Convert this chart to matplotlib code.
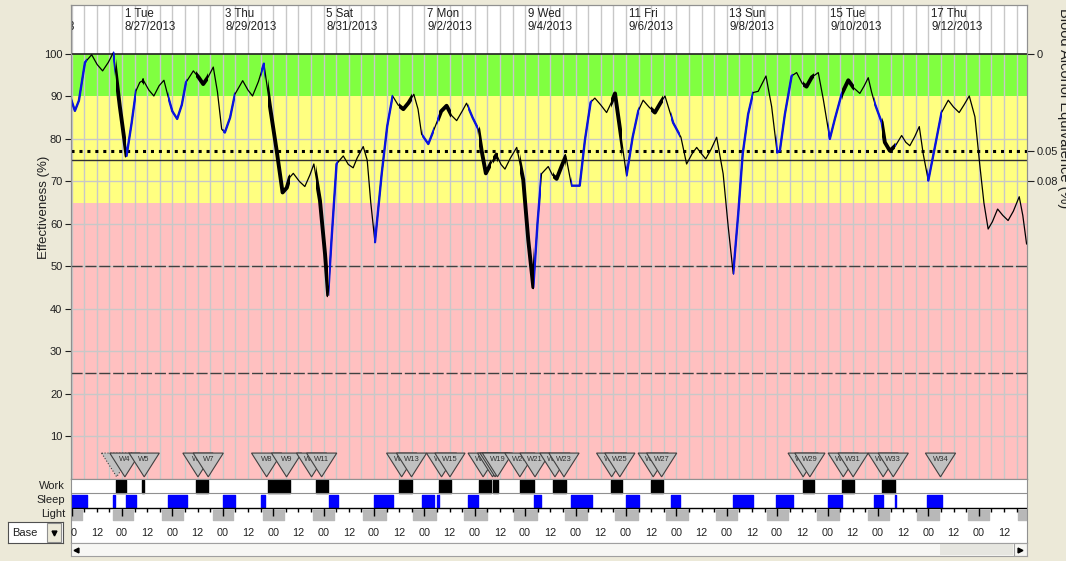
import matplotlib.pyplot as plt
from matplotlib.patches import Polygon, Rectangle
from matplotlib.path import Path

plt.rcParams['font.family'] = ['Liberation Sans', 'DejaVu Sans']

# hours from midnight of day 1 (Tue 8/27/2013), effectiveness (%)
curve_hours = [-24.4, -22.4, -20.5, -17.6, -14.4, -11.8, -9.2, -6.5, -4.1, -1.0, 2.2, 4.6, 6.7, 8.5,
               10.2, 12.8, 15.2, 17.7, 20.0, 21.9, 24.0, 26.3, 28.5, 30.5, 34.0, 36.5, 38.7, 41.0,
               43.5, 45.5, 47.5, 49.0, 51.5, 53.8, 57.5, 60.0, 62.2, 65.0, 67.6, 70.5, 73.7, 76.5,
               78.5, 80.0, 81.6, 84.5, 87.1, 89.5, 91.4, 94.3, 96.7, 98.2, 99.8, 102.2, 105.4, 107.8,
               110.1, 112.0, 114.9, 116.8, 118.5, 120.5, 123.7, 126.3, 128.9, 131.5, 134.0, 136.5,
               139.0, 141.0, 142.7, 145.9, 149.0, 152.0, 154.6, 157.0, 159.4, 162.0, 164.1, 167.0,
               169.7, 171.3, 173.3, 176.0, 178.4, 180.5, 182.4, 185.0, 188.0, 191.1, 193.5, 195.9,
               197.9, 199.8, 203.0, 205.0, 207.0, 209.3, 211.4, 214.1, 218.0, 220.5, 223.2, 225.2,
               228.0, 230.8, 233.0, 234.8, 237.9, 240.3, 243.2, 245.9, 248.2, 251.0, 253.8, 256.5,
               258.6, 260.5, 262.5, 266.2, 268.9, 271.5, 273.7, 275.5, 278.0, 280.5, 283.2, 286.3,
               288.7, 291.1, 293.5, 295.6, 298.2, 300.6, 303.0, 306.7, 309.4, 312.0, 313.3, 315.7,
               318.9, 321.3, 324.0, 326.0, 328.5, 331.6, 334.0, 337.1, 339.5, 342.7, 345.9, 348.5,
               351.4, 353.5, 355.4, 357.0, 358.6, 361.8, 363.3, 365.7, 368.5, 371.3, 373.3, 375.2,
               377.5, 379.7, 381.6, 384.0, 387.1, 390.3, 393.5, 396.0, 398.7, 401.0, 403.5, 406.2,
               408.6, 410.5, 412.5, 414.5, 417.0, 419.5, 422.0, 424.5, 427.3, 429.0, 430.8]
curve_effect = [89.6, 86.6, 89.0, 98.0, 99.8, 97.5, 96.0, 98.0, 100.3, 87.6, 76.0, 83.7, 91.3, 93.3,
                93.8, 91.5, 90.1, 92.5, 93.8, 90.1, 86.5, 84.7, 88.0, 93.3, 96.0, 94.5, 92.9, 94.5,
                96.9, 91.0, 82.3, 81.5, 85.0, 90.5, 93.7, 91.5, 90.1, 93.5, 97.7, 87.6, 77.2, 67.4,
                68.5, 71.0, 71.9, 70.0, 68.8, 71.5, 74.1, 65.5, 53.0, 43.2, 56.2, 74.1, 76.0, 74.0,
                73.2, 75.5, 78.2, 75.0, 65.0, 55.7, 71.8, 82.9, 90.1, 88.0, 87.0, 88.5,
                90.5, 87.0, 81.1, 78.8, 82.7, 86.5, 87.8, 85.5, 84.3, 86.5, 88.4, 85.0,
                82.3, 77.2, 71.9, 74.5, 76.3, 74.0, 72.9, 75.5, 78.0, 70.4, 56.2, 45.1,
                60.2, 71.8, 73.5, 71.5, 70.6, 73.5, 76.0, 69.0, 69.0, 79.8, 88.6, 89.6,
                88.0, 86.2, 88.5, 90.7, 79.8, 71.4, 80.4, 86.6, 89.1, 87.5, 86.2, 88.5,
                90.1, 87.0, 83.8, 80.4, 74.1, 76.5, 78.0, 76.8, 75.3, 77.5, 80.4, 71.8,
                59.4, 48.3, 62.5, 76.4, 85.8, 90.9, 91.2, 94.8, 87.6, 76.8, 77.2, 85.8,
                94.8, 95.6, 93.0, 92.3, 94.5, 95.6, 89.3, 80.0, 84.7, 90.5, 93.8, 92.0,
                90.7, 92.5, 94.4, 91.0, 88.2, 83.9, 79.2, 77.2, 78.5, 80.8, 79.2, 78.4,
                80.5, 82.9, 76.4, 70.2, 78.0, 86.2, 89.1, 87.5, 86.2, 88.0, 90.1, 85.2,
                73.5, 64.9, 58.8, 60.5, 63.5, 62.0, 60.8, 63.0, 66.4, 62.0, 55.3]

sleep_periods = [(-24.4, -16.5), (-4.1, -3.3), (1.8, 6.7), (22.0, 30.8), (48.0, 53.8), (66.0, 68.0),
                 (98.7, 103.0), (120.1, 128.9), (142.9, 148.7), (150.1, 151.1), (165.0, 169.7),
                 (196.0, 199.7), (213.7, 223.7), (240.0, 246.3), (261.3, 265.7), (290.8, 300.6),
                 (311.4, 319.7), (336.0, 342.7), (358.1, 362.2), (368.1, 368.6), (383.2, 390.3)]
work_periods = [(-3.0, 1.9), (9.7, 10.6), (35.2, 41.1), (69.4, 80.0), (92.4, 98.2), (132.0, 138.1),
                (151.1, 156.7), (170.2, 175.7), (176.8, 179.2), (189.5, 196.3), (205.4, 211.4),
                (232.7, 237.9), (251.9, 257.8), (324.1, 329.7), (343.0, 348.7), (362.0, 368.1)]
dark_periods = [(-24.4, -19.2), (-4.4, 5.4), (19.2, 29.2), (43.5, 53.0), (67.3, 77.1), (91.1, 101.1),
                (115.0, 125.7), (138.7, 149.5), (162.9, 173.7), (186.8, 197.5), (210.9, 221.6),
                (235.0, 245.9), (259.0, 269.7), (282.9, 293.0), (307.0, 317.3), (331.1, 341.6),
                (355.1, 365.4), (378.7, 389.2), (402.7, 413.0), (426.8, 431.0)]

# work markers (apex hour, label); labels that are fully covered in the original are left blank
marker_hours = [-2.5, 1.4, 10.6, 36.2, 41.1, 68.9, 78.4, 90.3, 95.1, 133.2, 137.9, 152.2, 156.2,
                172.0, 176.5, 177.7, 178.8, 189.5, 196.7, 206.2, 210.5, 233.2, 237.1, 253.0, 257.0,
                324.4, 327.6, 343.5, 348.2, 362.5, 367.3, 389.8]
marker_labels = ['', 'W4', 'W5', 'W6', 'W7', 'W8', 'W9', 'W10', 'W11', 'W12', 'W13', 'W14', 'W15',
                 'W16', '', '', 'W19', 'W20', 'W21', 'W22', 'W23', 'W24', 'W25', 'W26', 'W27',
                 'W28', 'W29', 'W30', 'W31', 'W32', 'W33', 'W34']

day_hours = [-48, 0, 48, 96, 144, 192, 240, 288, 336, 384]
day_labels = ['30 Sun', '1 Tue', '3 Thu', '5 Sat', '7 Mon', '9 Wed', '11 Fri', '13 Sun', '15 Tue', '17 Thu']
date_labels = ['8/25/2013', '8/27/2013', '8/29/2013', '8/31/2013', '9/2/2013', '9/4/2013',
               '9/6/2013', '9/8/2013', '9/10/2013', '9/12/2013']

bac_ticks = [100, 77.2, 70]
bac_labels = ['0', '0.05', '0.08']

W, H = 1066, 561
fig = plt.figure(figsize=(W / 100, H / 100), dpi=100, facecolor='#ECE9D8')


def px_axes(x0, y0, x1, y1):
    return fig.add_axes([x0 / W, 1 - y1 / H, (x1 - x0) / W, (y1 - y0) / H])


X0, X1 = 70.7, 1027
XLIM = (-24.4, 431)

# main effectiveness panel
ax = px_axes(X0, 5, X1, 479)
ax.set_xlim(*XLIM)
ax.set_ylim(0, 111.5)
ax.set_facecolor('white')
ax.axhspan(90, 100, color='#80FF40', lw=0, zorder=0)
ax.axhspan(65, 90, color='#FFFF80', lw=0, zorder=0)
ax.axhspan(0, 65, color='#FFC0C0', lw=0, zorder=0)
for h in range(-24, 431, 6):
    ax.axvline(h, color='#C8C8C8', lw=1, zorder=1)
for v in range(10, 90, 10):
    ax.axhline(v, color='#C8C8C8', lw=1, zorder=1)
ax.axhline(100, color='#202020', lw=1.2, zorder=2)
ax.axhline(77.2, color='black', lw=2.2, ls=(0, (1, 1.6)), zorder=2)
ax.axhline(75, color='#303030', lw=1, zorder=2)
ax.axhline(50, color='#404040', lw=1, ls=(0, (8, 2)), zorder=2)
ax.axhline(25, color='#404040', lw=1, ls=(0, (8, 2)), zorder=2)


def period_path(periods):
    rects = [Path([(s, -10), (e, -10), (e, 130), (s, 130), (s, -10)],
                  [Path.MOVETO, Path.LINETO, Path.LINETO, Path.LINETO, Path.CLOSEPOLY])
             for s, e in periods]
    return Path.make_compound_path(*rects)


# thin line everywhere, blue while asleep, thick while at work
ax.plot(curve_hours, curve_effect, color='black', lw=0.9, zorder=5)
blue, = ax.plot(curve_hours, curve_effect, color='#0A14E0', lw=1.7, zorder=6)
blue.set_clip_path(period_path(sleep_periods), ax.transData)
thick, = ax.plot(curve_hours, curve_effect, color='black', lw=2.8, zorder=6,
                 solid_capstyle='round', solid_joinstyle='round')
thick.set_clip_path(period_path(work_periods), ax.transData)

for i, (h, lab) in enumerate(zip(marker_hours, marker_labels)):
    tri = Polygon([(h - 7.2, 6.1), (h + 7.2, 6.1), (h, 0.5)], closed=True, fc='#C0C0C0',
                  ec='#404040', lw=0.8, ls=':' if i == 0 else '-', zorder=10 + 2 * i)
    ax.add_patch(tri)
    if lab:
        ax.text(h, 4.7, lab, ha='center', va='center', fontsize=5.5, color='#303030',
                zorder=11 + 2 * i)

# day labels in the header
for h, d, dt in zip(day_hours, day_labels, date_labels):
    ax.text(h + 1.3, 110.8, d + '\n' + dt, ha='left', va='top', fontsize=8.3,
            color='#202020', linespacing=1.15, clip_on=True, zorder=3)

ax.set_xticks([])
ax.set_yticks(range(10, 101, 10))
ax.tick_params(axis='y', direction='out', length=4, labelsize=8, pad=2, colors='#202020')
for s in ax.spines.values():
    s.set_color('#909090')

ax2 = ax.twinx()
ax2.set_ylim(0, 111.5)
ax2.set_yticks(bac_ticks)
ax2.set_yticklabels(bac_labels)
ax2.tick_params(axis='y', direction='out', length=5, labelsize=8, pad=2, colors='#202020')
for s in ax2.spines.values():
    s.set_color('#909090')

fig.text(44 / W, 1 - 207 / H, 'Effectiveness (%)', rotation=90, ha='center', va='center',
         fontsize=9.5, color='#202020')
fig.text(1064 / W, 1 - 108 / H, 'Blood Alcohol Equivalence (%)', rotation=-90, ha='center',
         va='center', fontsize=10.5, color='#202020')

# work / sleep / light rows and hour labels (y in pixels)
rows = px_axes(X0, 479, X1, 543)
rows.set_xlim(*XLIM)
rows.set_ylim(543, 479)
rows.set_facecolor('white')
rows.set_xticks([])
rows.set_yticks([])
for s in rows.spines.values():
    s.set_color('#909090')
rows.broken_barh([(s, e - s) for s, e in work_periods], (479.5, 13.5), color='black')
rows.broken_barh([(s, e - s) for s, e in sleep_periods], (494.5, 12.2), color='#0000FF')
rows.broken_barh([(s, e - s) for s, e in dark_periods], (509.5, 10.5), color='#B8B8B8')
rows.axhline(493.3, color='#909090', lw=0.8)
rows.axhline(508.3, color='black', lw=1)
for h in range(-24, 431, 6):
    rows.vlines(h, 508.3, 516 if h % 24 == 0 else 511.5, color='black', lw=1)
for h in range(-24, 421, 12):
    rows.text(h, 533, '00' if h % 24 == 0 else '12', ha='center', va='center', fontsize=7.8,
              color='#202020', clip_on=True)

fig.text(65 / W, 1 - 486 / H, 'Work', ha='right', va='center', fontsize=8, color='#202020')
fig.text(65 / W, 1 - 500 / H, 'Sleep', ha='right', va='center', fontsize=8, color='#202020')
fig.text(65 / W, 1 - 514 / H, 'Light', ha='right', va='center', fontsize=8, color='#202020')

# scrollbar
sb = px_axes(X0, 543, X1, 556)
sb.set_xlim(X0, X1)
sb.set_ylim(0, 1)
sb.set_facecolor('#F7F7F4')
sb.set_xticks([])
sb.set_yticks([])
for s in sb.spines.values():
    s.set_color('#A0A0A0')
sb.add_patch(Rectangle((940, 0.05), 73, 0.9, fc='#E6E6E0', ec='none'))
sb.add_patch(Rectangle((1014, 0), 13, 1, fc='#F7F7F4', ec='#A0A0A0', lw=0.8))
sb.plot([76], [0.5], marker='<', color='black', ms=3.5)
sb.plot([1020.5], [0.5], marker='>', color='black', ms=3.5)

# "Base" dropdown
dd = px_axes(8, 522, 63, 543)
dd.set_xlim(0, 1)
dd.set_ylim(0, 1)
dd.set_facecolor('white')
dd.set_xticks([])
dd.set_yticks([])
for s in dd.spines.values():
    s.set_color('#505050')
dd.add_patch(Rectangle((0.7, 0.06), 0.27, 0.88, fc='#ECE9D8', ec='#909090', lw=0.8))
dd.text(0.08, 0.5, 'Base', ha='left', va='center', fontsize=8, color='#202020')
dd.plot([0.835], [0.5], marker='v', color='black', ms=3.5)

fig.savefig('out.png', dpi=100, facecolor=fig.get_facecolor())
